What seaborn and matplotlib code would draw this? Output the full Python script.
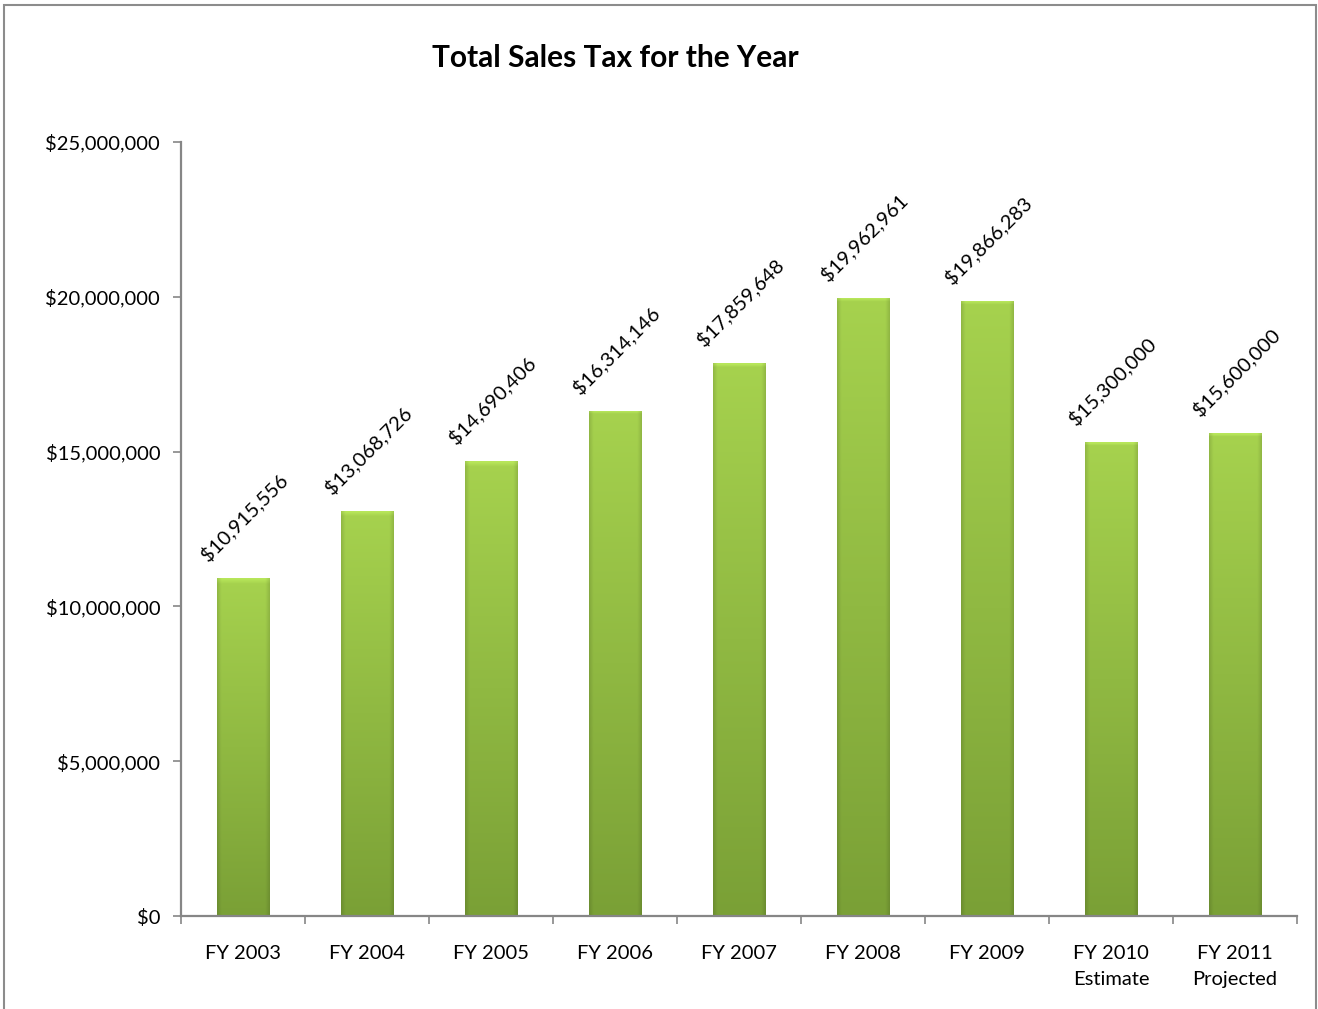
import numpy as np
import pandas as pd
import matplotlib
matplotlib.use("Agg")
import matplotlib.pyplot as plt
from matplotlib.patches import Rectangle
from matplotlib.ticker import FuncFormatter, FixedLocator
import seaborn as sns

# Sales tax totals by fiscal year
categories = ["FY 2003", "FY 2004", "FY 2005", "FY 2006", "FY 2007",
              "FY 2008", "FY 2009", "FY 2010\nEstimate", "FY 2011\nProjected"]
sales_tax = [10915556, 13068726, 14690406, 16314146, 17859648,
             19962961, 19866283, 15300000, 15600000]
y_ticks = [0, 5000000, 10000000, 15000000, 20000000, 25000000]

sns.set_theme(style="white")
plt.rcParams["font.family"] = ["Lato", "DejaVu Sans"]

W, H = 1318, 1009
fig = plt.figure(figsize=(W / 100, H / 100), dpi=100)
ax = fig.add_axes([181 / W, 1 - 916 / H, (1297 - 181) / W, (916 - 142) / H])

df = pd.DataFrame({"year": categories, "tax": sales_tax})
sns.barplot(data=df, x="year", y="tax", ax=ax, color="#97c142", width=0.42,
            saturation=1, edgecolor="none")

ax.set_xlim(-0.5, len(categories) - 0.5)
ax.set_ylim(0, 25000000)

# Shaded fill for each bar: lighter at the top, darker toward the base,
# with soft darker sides and a bright bevel along the top edge.
top = np.array([166, 210, 78]) / 255
bot = np.array([122, 160, 54]) / 255
ny, nx = 200, 60
tv = np.linspace(1, 0, ny)[:, None]
col = (bot + (top - bot) * tv[..., None]) * np.ones((1, nx, 1))
xs = np.linspace(0, 1, nx)
side = 1 - 0.12 * (np.clip(1 - xs / 0.08, 0, 1) + np.clip((xs - 0.92) / 0.08, 0, 1))
col = col * side[None, :, None]
for p in ax.patches:
    x0, y0 = p.get_x(), p.get_y()
    w, h = p.get_width(), p.get_height()
    # bevel highlight of a fixed screen height
    hp = ax.transData.transform((0, h))[1] - ax.transData.transform((0, 0))[1]
    bev = max(1, int(ny * 7 / hp))
    img = col.copy()
    fade = np.linspace(1, 0, bev)[:, None, None]
    img[:bev] = np.clip(img[:bev] * (1 + 0.06 * fade) + 0.03 * fade, 0, 1)
    im = ax.imshow(img, extent=(x0, x0 + w, y0, y0 + h), aspect="auto",
                   origin="upper", zorder=2, interpolation="bilinear")
    im.set_clip_path(p)
    p.set_facecolor("none")
    # faint shadow under the bar
    ax.add_patch(Rectangle((x0 + w * 0.02, 0), w, h, transform=ax.transData,
                           facecolor="#000000", alpha=0.06, zorder=1.5,
                           edgecolor="none"))

ax.set_aspect("auto")
ax.set_xlim(-0.5, len(categories) - 0.5)
ax.set_ylim(0, 25000000)

# Value labels, rotated above each bar
for i, v in enumerate(sales_tax):
    ax.annotate(f"${v:,.0f}", xy=(i, v), xytext=(1, 44), textcoords="offset points",
                rotation=45, ha="center", va="center", fontsize=14.5, color="#000000")

ax.yaxis.set_major_locator(FixedLocator(y_ticks))
ax.yaxis.set_major_formatter(FuncFormatter(lambda v, _: f"${v:,.0f}"))
ax.set_xlabel("")
ax.set_ylabel("")

ax.set_xticks(range(len(categories)))
ax.set_xticklabels(categories, fontsize=14.5, linespacing=1.6)
ax.set_xticks(np.arange(-0.5, len(categories), 1.0), minor=True)
ax.tick_params(axis="x", which="major", length=0, pad=21, colors="#000000")
ax.tick_params(axis="x", which="minor", length=6, width=1.2, color="#868686",
               direction="out", bottom=True)
ax.tick_params(axis="y", which="major", length=6, width=1.2, color="#868686",
               direction="out", left=True, labelsize=14.5, labelcolor="#000000", pad=9)
for lbl in ax.get_xticklabels():
    lbl.set_verticalalignment("top")

for s in ["top", "right"]:
    ax.spines[s].set_visible(False)
for s in ["left", "bottom"]:
    ax.spines[s].set_color("#868686")
    ax.spines[s].set_linewidth(1.6)
ax.grid(False)

fig.text(615 / W, 1 - 58 / H, "Total Sales Tax for the Year", ha="center", va="center",
         fontsize=21.5, fontweight="bold", color="#000000")

# Chart-area border
fig.patches.append(Rectangle((4 / W, -0.05), (1316 - 4) / W, (1 - 5 / H) + 0.05,
                             transform=fig.transFigure, fill=False,
                             edgecolor="#8c8c8c", linewidth=1.5, clip_on=False))

fig.savefig("out.png", dpi=100, facecolor="white")
